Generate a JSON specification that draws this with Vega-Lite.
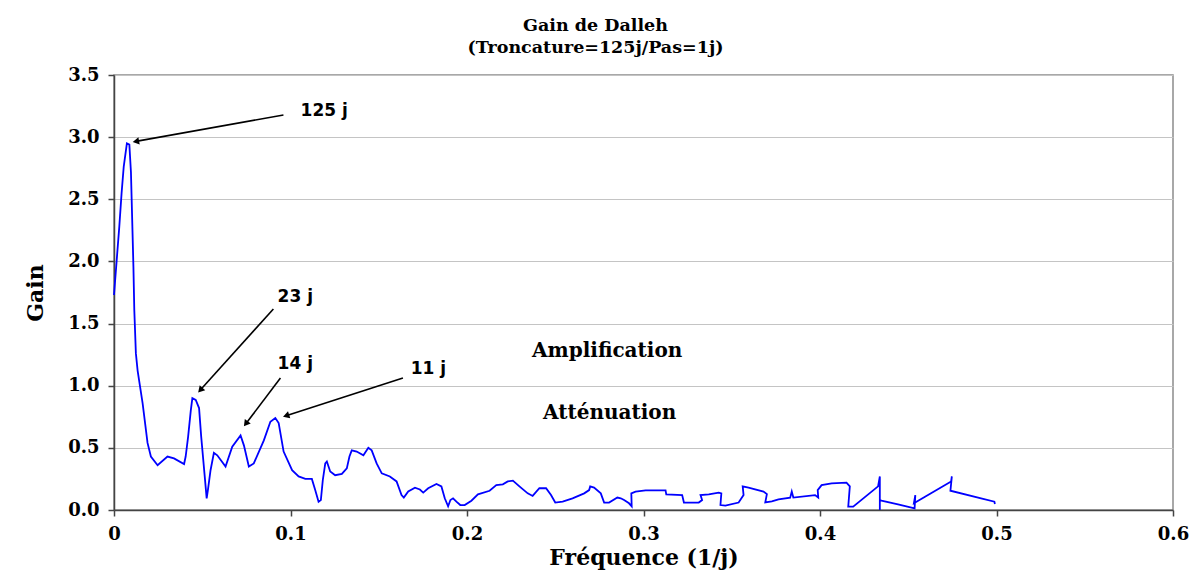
{
  "$schema": "https://vega.github.io/schema/vega-lite/v6.json",
  "width": 1059,
  "height": 435,
  "autosize": "none",
  "padding": {"left": 114, "top": 75, "right": 19, "bottom": 63},
  "background": "white",
  "title": {
    "text": ["Gain de Dalleh", "(Troncature=125j/Pas=1j)"],
    "font": "DejaVu Serif",
    "fontWeight": "bold",
    "fontSize": 17.5,
    "lineHeight": 22,
    "anchor": "middle",
    "frame": "group",
    "dx": -48,
    "offset": 10,
    "color": "black"
  },
  "config": {
    "view": {"stroke": "#8c8c8c", "strokeWidth": 1.5},
    "axis": {
      "labelFont": "DejaVu Serif",
      "labelFontWeight": "bold",
      "labelFontSize": 18,
      "labelColor": "black",
      "titleFont": "DejaVu Serif",
      "titleFontWeight": "bold",
      "titleFontSize": 22,
      "titleColor": "black",
      "domainColor": "#444444",
      "domainWidth": 1.5,
      "tickColor": "#444444",
      "tickWidth": 1.5,
      "tickSize": 6,
      "gridColor": "#c4c4c4",
      "gridWidth": 1
    }
  },
  "datasets": {
    "curve": [
      {"i":1,"f":0.0000,"g":1.73},{"i":2,"f":0.0030,"g":2.28},{"i":3,"f":0.0043,"g":2.55},{"i":4,"f":0.0055,"g":2.76},
      {"i":5,"f":0.0073,"g":2.95},{"i":6,"f":0.0087,"g":2.94},{"i":7,"f":0.0096,"g":2.72},{"i":8,"f":0.0110,"g":1.96},
      {"i":9,"f":0.0115,"g":1.61},{"i":10,"f":0.0124,"g":1.26},{"i":11,"f":0.0134,"g":1.12},{"i":12,"f":0.0162,"g":0.86},
      {"i":13,"f":0.0190,"g":0.54},{"i":14,"f":0.0209,"g":0.43},{"i":15,"f":0.0247,"g":0.36},{"i":16,"f":0.0303,"g":0.43},
      {"i":17,"f":0.0340,"g":0.415},{"i":18,"f":0.0397,"g":0.37},{"i":19,"f":0.0406,"g":0.43},{"i":20,"f":0.0420,"g":0.59},
      {"i":21,"f":0.0435,"g":0.80},{"i":22,"f":0.0444,"g":0.90},{"i":23,"f":0.0463,"g":0.885},{"i":24,"f":0.0482,"g":0.82},
      {"i":25,"f":0.0494,"g":0.59},{"i":26,"f":0.0514,"g":0.27},{"i":27,"f":0.0525,"g":0.094},{"i":28,"f":0.0532,"g":0.16},
      {"i":29,"f":0.0547,"g":0.32},{"i":30,"f":0.0566,"g":0.46},{"i":31,"f":0.0585,"g":0.44},{"i":32,"f":0.0632,"g":0.35},
      {"i":33,"f":0.0670,"g":0.51},{"i":34,"f":0.0717,"g":0.60},{"i":35,"f":0.0736,"g":0.52},{"i":36,"f":0.0764,"g":0.35},
      {"i":37,"f":0.0792,"g":0.375},{"i":38,"f":0.0849,"g":0.56},{"i":39,"f":0.0886,"g":0.71},{"i":40,"f":0.0914,"g":0.74},
      {"i":41,"f":0.0933,"g":0.70},{"i":42,"f":0.0961,"g":0.47},{"i":43,"f":0.1009,"g":0.32},{"i":44,"f":0.1046,"g":0.27},
      {"i":45,"f":0.1084,"g":0.25},{"i":46,"f":0.1121,"g":0.25},{"i":47,"f":0.1140,"g":0.16},{"i":48,"f":0.1159,"g":0.067},
      {"i":49,"f":0.1172,"g":0.08},{"i":50,"f":0.1183,"g":0.24},{"i":51,"f":0.1197,"g":0.375},{"i":52,"f":0.1206,"g":0.39},
      {"i":53,"f":0.1225,"g":0.31},{"i":54,"f":0.1253,"g":0.28},{"i":55,"f":0.1291,"g":0.29},{"i":56,"f":0.1319,"g":0.335},
      {"i":57,"f":0.1334,"g":0.43},{"i":58,"f":0.1347,"g":0.48},{"i":59,"f":0.1375,"g":0.47},{"i":60,"f":0.1413,"g":0.44},
      {"i":61,"f":0.1441,"g":0.50},{"i":62,"f":0.1460,"g":0.48},{"i":63,"f":0.1488,"g":0.375},{"i":64,"f":0.1517,"g":0.295},
      {"i":65,"f":0.1563,"g":0.27},{"i":66,"f":0.1601,"g":0.23},{"i":67,"f":0.1629,"g":0.12},{"i":68,"f":0.1642,"g":0.10},
      {"i":69,"f":0.1667,"g":0.15},{"i":70,"f":0.1705,"g":0.18},{"i":71,"f":0.1733,"g":0.165},{"i":72,"f":0.1752,"g":0.14},
      {"i":73,"f":0.1780,"g":0.175},{"i":74,"f":0.1827,"g":0.21},{"i":75,"f":0.1855,"g":0.19},{"i":76,"f":0.1874,"g":0.094},
      {"i":77,"f":0.1893,"g":0.03},{"i":78,"f":0.1906,"g":0.08},{"i":79,"f":0.1921,"g":0.094},{"i":80,"f":0.1940,"g":0.067},
      {"i":81,"f":0.1962,"g":0.04},{"i":82,"f":0.1987,"g":0.04},{"i":83,"f":0.2025,"g":0.075},{"i":84,"f":0.2062,"g":0.126},
      {"i":85,"f":0.2128,"g":0.155},{"i":86,"f":0.2166,"g":0.20},{"i":87,"f":0.2203,"g":0.207},{"i":88,"f":0.2231,"g":0.23},
      {"i":89,"f":0.2260,"g":0.236},{"i":90,"f":0.2297,"g":0.19},{"i":91,"f":0.2344,"g":0.134},{"i":92,"f":0.2372,"g":0.113},
      {"i":93,"f":0.2410,"g":0.175},{"i":94,"f":0.2448,"g":0.175},{"i":95,"f":0.2476,"g":0.12},{"i":96,"f":0.2500,"g":0.06},
      {"i":97,"f":0.2542,"g":0.067},{"i":98,"f":0.2598,"g":0.094},{"i":99,"f":0.2664,"g":0.134},{"i":100,"f":0.2692,"g":0.16},
      {"i":101,"f":0.2698,"g":0.19},{"i":102,"f":0.2720,"g":0.18},{"i":103,"f":0.2758,"g":0.134},{"i":104,"f":0.2777,"g":0.06},
      {"i":105,"f":0.2805,"g":0.06},{"i":106,"f":0.2852,"g":0.10},{"i":107,"f":0.2871,"g":0.094},{"i":108,"f":0.2890,"g":0.08},
      {"i":109,"f":0.2918,"g":0.054},{"i":110,"f":0.2933,"g":0.03},{"i":111,"f":0.2931,"g":0.134},{"i":112,"f":0.2955,"g":0.148},
      {"i":113,"f":0.3012,"g":0.158},{"i":114,"f":0.3125,"g":0.158},{"i":115,"f":0.3129,"g":0.126},{"i":116,"f":0.3219,"g":0.12},
      {"i":117,"f":0.3229,"g":0.06},{"i":118,"f":0.3313,"g":0.06},{"i":119,"f":0.3332,"g":0.08},{"i":120,"f":0.3323,"g":0.12},
      {"i":121,"f":0.3370,"g":0.126},{"i":122,"f":0.3426,"g":0.14},{"i":123,"f":0.3441,"g":0.134},{"i":124,"f":0.3436,"g":0.04},
      {"i":125,"f":0.3464,"g":0.035},{"i":126,"f":0.3539,"g":0.06},{"i":127,"f":0.3567,"g":0.12},{"i":128,"f":0.3562,"g":0.19},
      {"i":129,"f":0.3595,"g":0.18},{"i":130,"f":0.3680,"g":0.148},{"i":131,"f":0.3699,"g":0.128},{"i":132,"f":0.3690,"g":0.062},
      {"i":133,"f":0.3727,"g":0.07},{"i":134,"f":0.3765,"g":0.086},{"i":135,"f":0.3831,"g":0.099},{"i":136,"f":0.3840,"g":0.148},
      {"i":137,"f":0.3849,"g":0.10},{"i":138,"f":0.3972,"g":0.12},{"i":139,"f":0.3990,"g":0.10},{"i":140,"f":0.3987,"g":0.16},
      {"i":141,"f":0.4009,"g":0.20},{"i":142,"f":0.4066,"g":0.215},{"i":143,"f":0.4150,"g":0.22},{"i":144,"f":0.4169,"g":0.19},
      {"i":145,"f":0.4160,"g":0.027},{"i":146,"f":0.4188,"g":0.027},{"i":147,"f":0.4329,"g":0.19},{"i":148,"f":0.4339,"g":0.27},
      {"i":149,"f":0.4339,"g":0.0},{"i":150,"f":0.4339,"g":0.08},{"i":151,"f":0.4348,"g":0.075},{"i":152,"f":0.4442,"g":0.045},
      {"i":153,"f":0.4536,"g":0.013},{"i":154,"f":0.4540,"g":0.12},{"i":155,"f":0.4532,"g":0.054},{"i":156,"f":0.4743,"g":0.23},
      {"i":157,"f":0.4747,"g":0.27},{"i":158,"f":0.4739,"g":0.155},{"i":159,"f":0.4988,"g":0.067},{"i":160,"f":0.4991,"g":0.048}
    ],
    "arrows": [
      {"label":"125 j","f":0.1191,"g":3.21,"f1":0.0960,"g1":3.178,"f2":0.0124,"g2":2.966,"ang":260},
      {"label":"23 j","f":0.1027,"g":1.714,"f1":0.0903,"g1":1.617,"f2":0.0489,"g2":0.965,"ang":222},
      {"label":"14 j","f":0.1027,"g":1.175,"f1":0.0943,"g1":1.062,"f2":0.0747,"g2":0.694,"ang":217},
      {"label":"11 j","f":0.1781,"g":1.134,"f1":0.1637,"g1":1.062,"f2":0.0975,"g2":0.758,"ang":252}
    ],
    "zones": [
      {"label":"Amplification","f":0.2794,"g":1.283},
      {"label":"Atténuation","f":0.2808,"g":0.78}
    ]
  },
  "layer": [
    {
      "data": {"name": "curve"},
      "mark": {"type": "line", "color": "#0000ff", "strokeWidth": 1.8, "interpolate": "linear"},
      "encoding": {
        "x": {
          "field": "f", "type": "quantitative",
          "scale": {"domain": [0, 0.6], "nice": false, "zero": false},
          "axis": {
            "title": "Fréquence (1/j)",
            "values": [0, 0.1, 0.2, 0.3, 0.4, 0.5, 0.6],
            "format": ".1~f",
            "grid": false,
            "labelFlush": false,
            "labelPadding": 9,
            "titlePadding": 4
          }
        },
        "y": {
          "field": "g", "type": "quantitative",
          "scale": {"domain": [0, 3.5], "nice": false, "zero": false},
          "axis": {
            "title": "Gain",
            "values": [0, 0.5, 1, 1.5, 2, 2.5, 3, 3.5],
            "format": ".1f",
            "grid": true,
            "labelPadding": 9,
            "titlePadding": 20
          }
        },
        "order": {"field": "i", "type": "quantitative"}
      }
    },
    {
      "mark": {"type": "rule", "color": "black", "strokeWidth": 1.5},
      "encoding": {"y": {"datum": 1.02}}
    },
    {
      "data": {"name": "arrows"},
      "mark": {"type": "rule", "color": "black", "strokeWidth": 1.6},
      "encoding": {
        "x": {"field": "f1", "type": "quantitative"},
        "y": {"field": "g1", "type": "quantitative"},
        "x2": {"field": "f2"},
        "y2": {"field": "g2"}
      }
    },
    {
      "data": {"name": "arrows"},
      "mark": {"type": "point", "shape": "triangle-up", "filled": true, "color": "black", "size": 55, "opacity": 1},
      "encoding": {
        "x": {"field": "f2", "type": "quantitative"},
        "y": {"field": "g2", "type": "quantitative"},
        "angle": {"field": "ang", "type": "quantitative", "scale": null}
      }
    },
    {
      "data": {"name": "arrows"},
      "mark": {"type": "text", "font": "DejaVu Sans", "fontWeight": "bold", "fontSize": 17, "color": "black", "align": "center", "baseline": "middle"},
      "encoding": {
        "x": {"field": "f", "type": "quantitative"},
        "y": {"field": "g", "type": "quantitative"},
        "text": {"field": "label"}
      }
    },
    {
      "data": {"name": "zones"},
      "mark": {"type": "text", "font": "DejaVu Serif", "fontWeight": "bold", "fontSize": 20, "color": "black", "align": "center", "baseline": "middle"},
      "encoding": {
        "x": {"field": "f", "type": "quantitative"},
        "y": {"field": "g", "type": "quantitative"},
        "text": {"field": "label"}
      }
    }
  ]
}
